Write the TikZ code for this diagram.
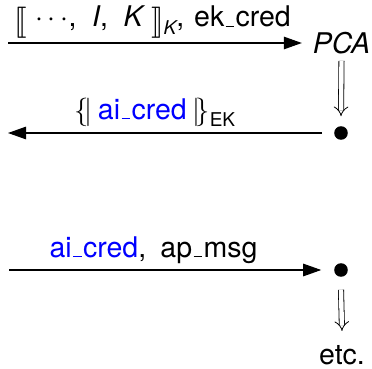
\RequirePackage{fix-cm}
\documentclass[tikz,border=0pt]{standalone}
\usepackage{fontspec}
\setmainfont{TeX Gyre Heros}
\usepackage{stmaryrd}
\usepackage{graphicx}
\usetikzlibrary{arrows.meta}
\newcommand\us{\leavevmode\kern.05em\rule{.3em}{.045em}\kern.05em}
\newcommand\subtxt[1]{\raisebox{-.28em}{\fontsize{19}{20}\selectfont #1}}
\newcommand\lbrk{\raisebox{-.12em}{\scalebox{1.25}{$\llbracket$}}}
\newcommand\rbrk{\raisebox{-.12em}{\scalebox{1.25}{$\rrbracket$}}}
\begin{document}
\begin{tikzpicture}[x=1pt,y=-1pt,
  every node/.style={font=\fontsize{28.5}{32}\selectfont, inner sep=0pt, outer sep=0pt},
  msg/.style={line width=1.1pt, -{Triangle[length=18pt,width=12.5pt]}},
  impl/.style={double, line width=0.8pt, double distance=4.4pt, -{Implies}},
  dotnode/.style={circle, fill=black, inner sep=4.8pt}]
\useasboundingbox (0,0) rectangle (372,369);
% top message
\coordinate (s1) at (8,43);
\node (pca) at (341.5,43) {\itshape PCA};
\node[anchor=base] (l1) at (152.5,27) {\lbrk\hspace{.3em}$\cdots$,\hspace{.55em}\textit{I},\hspace{.55em}\textit{K}\hspace{.2em}\rbrk\subtxt{\itshape K},\hspace{.35em}ek\us cred};
\draw[msg] (s1) -- ([xshift=-11pt]pca.west);
% first bullet
\node[dotnode] (b1) at (341,133) {};
\draw[impl] ([yshift=-7pt]pca.south) -- ([yshift=10pt]b1.north);
% return message
\coordinate (e2) at (8,133);
\node[anchor=base] (l2) at (155,119) {$\{\!|$\hspace{.2em}\textcolor{blue}{ai\us cred}\hspace{.2em}$|\!\}$\subtxt{EK}};
\draw[msg] ([xshift=-12pt]b1.west) -- (e2);
% bottom message
\coordinate (s3) at (9,270);
\node[dotnode] (b2) at (341,270) {};
\node[anchor=base] (l3) at (153.5,257) {\textcolor{blue}{ai\us cred},\hspace{.5em}ap\us msg};
\draw[msg] (s3) -- ([xshift=-13pt]b2.west);
% etc
\node[anchor=base] (etc) at (342,364) {etc.};
\draw[impl] ([yshift=-13pt]b2.south) -- ([yshift=14pt]etc.north);
\end{tikzpicture}
\end{document}
